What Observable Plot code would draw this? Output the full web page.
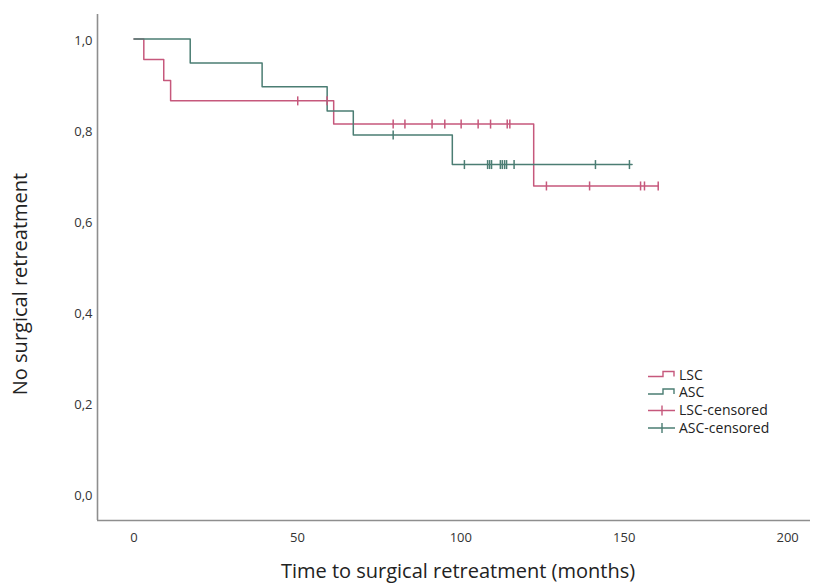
<!DOCTYPE html>
<html>
<head>
<meta charset="utf-8">
<script src="https://cdn.jsdelivr.net/npm/d3@7"></script>
<script src="https://cdn.jsdelivr.net/npm/@observablehq/plot@0.6"></script>
<style>
  html, body { margin: 0; padding: 0; background: #fff; }
  #chart { width: 813px; height: 586px; }
  svg { font-family: "Open Sans", "DejaVu Sans", sans-serif; }
</style>
</head>
<body>
<div id="chart"></div>
<script>
// ---- data ----
const groups = ["LSC", "ASC"];
const groupColors = ["#c6587c", "#4b7d73"];

const lscEventTimes = [0, 3.0, 9.1, 11.2, 61.1, 122.3];
const lscSurvival   = [1, 0.955, 0.909, 0.864, 0.813, 0.677];
const lscEnd = 160.4;
const lscCensored = [50.1, 59.1, 79.3, 82.9, 91.2, 95.1, 100.1, 105.3, 109.1, 114.2, 115.0, 126.2, 139.4, 155.0, 156.2, 160.4];

const ascEventTimes = [0, 17.2, 39.2, 59.1, 67.1, 97.4];
const ascSurvival   = [1, 0.947, 0.895, 0.842, 0.789, 0.724];
const ascEnd = 152.4;
const ascCensored = [79.3, 101.1, 108.2, 108.8, 109.4, 112.1, 112.7, 113.4, 114.0, 116.3, 141.2, 151.6];

const xTicks = [0, 50, 100, 150, 200];
const yTicks = [0, 0.2, 0.4, 0.6, 0.8, 1.0];
const xTitle = "Time to surgical retreatment (months)";
const yTitle = "No surgical retreatment";
const legendLabels = ["LSC", "ASC", "LSC-censored", "ASC-censored"];

// ---- build tables ----
function stepTable(group, times, surv, end) {
  const rows = times.map((t, i) => ({group, t, s: surv[i]}));
  rows.push({group, t: end, s: surv[surv.length - 1]});
  return rows;
}
function survAt(times, surv, t) {
  let s = surv[0];
  for (let i = 0; i < times.length; i++) if (times[i] <= t) s = surv[i];
  return s;
}
const steps = [
  ...stepTable("LSC", lscEventTimes, lscSurvival, lscEnd),
  ...stepTable("ASC", ascEventTimes, ascSurvival, ascEnd)
];
const censored = [
  ...lscCensored.map(t => ({group: "LSC", t, s: survAt(lscEventTimes, lscSurvival, t)})),
  ...ascCensored.map(t => ({group: "ASC", t, s: survAt(ascEventTimes, ascSurvival, t)}))
];

const vTick = {
  draw(ctx, size) {
    const h = Math.sqrt(size / Math.PI);
    ctx.moveTo(0, -h);
    ctx.lineTo(0, h);
  }
};

const xDomain = [-11.17, 207.0];
const yDomain = [-0.0582, 1.0538];
const fmt = d => d3.format(".1f")(d).replace(".", ",");

const plot = Plot.plot({
  width: 813,
  height: 586,
  marginLeft: 97,
  marginRight: 3,
  marginTop: 14,
  marginBottom: 66,
  x: {domain: xDomain},
  y: {domain: yDomain},
  color: {domain: groups, range: groupColors},
  style: {fontSize: "13px", color: "#333", background: "#fff", fontFamily: "'Open Sans', 'DejaVu Sans', sans-serif"},
  marks: [
    Plot.axisX({ticks: xTicks, tickSize: 0, tickPadding: 12, label: null, fontSize: 13}),
    Plot.axisY({ticks: yTicks, tickSize: 0, tickPadding: 5, label: null, tickFormat: fmt, fontSize: 13, dy: 2}),
    Plot.ruleX([xDomain[0]], {stroke: "#8e8e8e", strokeWidth: 1.6}),
    Plot.ruleY([yDomain[0]], {stroke: "#8e8e8e", strokeWidth: 1.6}),
    Plot.line(steps, {x: "t", y: "s", z: "group", stroke: "group", curve: "step-after", strokeWidth: 1.5}),
    Plot.dot(censored, {x: "t", y: "s", stroke: "group", symbol: vTick, r: 4.5, strokeWidth: 1.5})
  ]
});

document.getElementById("chart").appendChild(plot);

// ---- axis titles and legend ----
const svg = d3.select(plot);
svg.append("text")
  .attr("x", 458).attr("y", 571).attr("dy", "0.35em")
  .attr("text-anchor", "middle").attr("font-size", 20).attr("fill", "#222")
  .text(xTitle);
svg.append("text")
  .attr("transform", "translate(20,284) rotate(-90)").attr("dy", "0.35em")
  .attr("text-anchor", "middle").attr("font-size", 20).attr("fill", "#222")
  .text(yTitle);

const lg = svg.append("g").attr("font-size", 14).attr("fill", "#222").attr("text-anchor", "start");
const legendY = [375, 392.5, 410.5, 428];
legendLabels.forEach((lab, i) => {
  const y = legendY[i];
  const col = groupColors[i % 2];
  if (i < 2) {
    lg.append("path")
      .attr("d", `M648,${y + 1.5}H663V${y - 3.5}H674V${y + 1.5}`)
      .attr("fill", "none").attr("stroke", col).attr("stroke-width", 1.4);
  } else {
    lg.append("path")
      .attr("d", `M648,${y}H675M662,${y - 5}V${y + 5}`)
      .attr("fill", "none").attr("stroke", col).attr("stroke-width", 1.4);
  }
  lg.append("text").attr("x", 679).attr("y", y).attr("dy", "0.35em").text(lab);
});
</script>
</body>
</html>
